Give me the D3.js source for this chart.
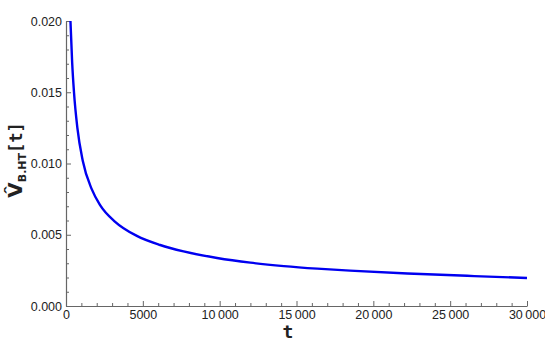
<!DOCTYPE html>
<html>
<head>
<meta charset="utf-8">
<script src="https://cdn.jsdelivr.net/npm/d3@7"></script>
<style>
  body { margin: 0; padding: 0; background: #fff; }
  svg { display: block; }
</style>
</head>
<body>
<svg id="chart" width="545" height="343"></svg>
<script>
// values
var tVals = [290, 400, 520, 740, 1090, 1675, 2220, 3200, 4610, 6130, 7650, 9830,
             12000, 14180, 16350, 18480, 22220, 26570, 30000];
var vVals = [0.0200, 0.0171, 0.0150, 0.0125, 0.0102, 0.0082, 0.00708, 0.00591, 0.00492,
             0.00428, 0.00383, 0.00337, 0.00304, 0.00280, 0.00262, 0.00248, 0.00228,
             0.00210, 0.00197];
var xMajor = [0, 5000, 10000, 15000, 20000, 25000, 30000];
var yMajor = [0, 0.005, 0.010, 0.015, 0.020];

var svg = d3.select("#chart"),
    mLeft = 66, mRight = 527, mTop = 21, mBottom = 306;

var x = d3.scaleLinear().domain([0, 30000]).range([mLeft, mRight]);
var y = d3.scaleLinear().domain([0, 0.020]).range([mBottom, mTop]);

var axisColor = "#666";
var fmtX = function(d) {
  // thin space thousands separator like the original
  return d >= 10000 ? d3.format("d")(d).replace(/(\d+)(\d{3})$/, "$1\u2009$2") : d3.format("d")(d);
};

var xMinor = d3.range(0, 30001, 1000).filter(function(d) { return d % 5000 !== 0; });
var yMinor = d3.range(0, 21).map(function(i) { return i * 0.001; }).filter(function(d, i) { return i % 5 !== 0; });

// x axis
var gx = svg.append("g").attr("transform", "translate(0," + mBottom + ")");
gx.call(d3.axisBottom(x).tickValues(xMajor).tickFormat(fmtX).tickSizeInner(-5).tickSizeOuter(0).tickPadding(4));
gx.append("g").call(d3.axisBottom(x).tickValues(xMinor).tickFormat("").tickSizeInner(-3).tickSizeOuter(0))
  .select(".domain").remove();

// y axis
var gy = svg.append("g").attr("transform", "translate(" + mLeft + ",0)");
gy.call(d3.axisLeft(y).tickValues(yMajor).tickFormat(d3.format(".3f")).tickSizeInner(-5).tickSizeOuter(0).tickPadding(4));
gy.append("g").call(d3.axisLeft(y).tickValues(yMinor).tickFormat("").tickSizeInner(-3).tickSizeOuter(0))
  .select(".domain").remove();

svg.selectAll(".domain").attr("stroke", axisColor).attr("stroke-width", 1.2);
svg.selectAll(".tick line").attr("stroke", axisColor);
svg.selectAll(".tick text")
  .attr("fill", "#222")
  .style("font-family", "Liberation Sans, Arial, sans-serif")
  .style("font-size", "12.5px");

// curve
var line = d3.line()
  .x(function(d, i) { return x(tVals[i]); })
  .y(function(d) { return y(d); })
  .curve(d3.curveMonotoneX);

svg.append("path")
  .datum(vVals)
  .attr("d", line)
  .attr("fill", "none")
  .attr("stroke", "#0000f0")
  .attr("stroke-width", 2.4);

// axis labels
svg.append("text")
  .attr("x", 288).attr("y", 338)
  .attr("text-anchor", "middle")
  .style("font-family", "DejaVu Sans Mono, monospace")
  .style("font-weight", "bold")
  .style("font-size", "18px")
  .attr("fill", "#222")
  .text("t");

var yl = svg.append("text")
  .attr("transform", "translate(22,160) rotate(-90)")
  .attr("text-anchor", "middle")
  .style("font-family", "DejaVu Sans, sans-serif")
  .style("font-weight", "bold")
  .attr("fill", "#222");
yl.append("tspan").style("font-size", "20px").text("V\u0302");
yl.append("tspan").style("font-size", "11px").attr("dy", 4).text("B.HT");
yl.append("tspan").style("font-size", "17px").style("font-family", "DejaVu Sans Mono, monospace")
  .attr("dy", -4).text("[t]");
</script>
</body>
</html>
